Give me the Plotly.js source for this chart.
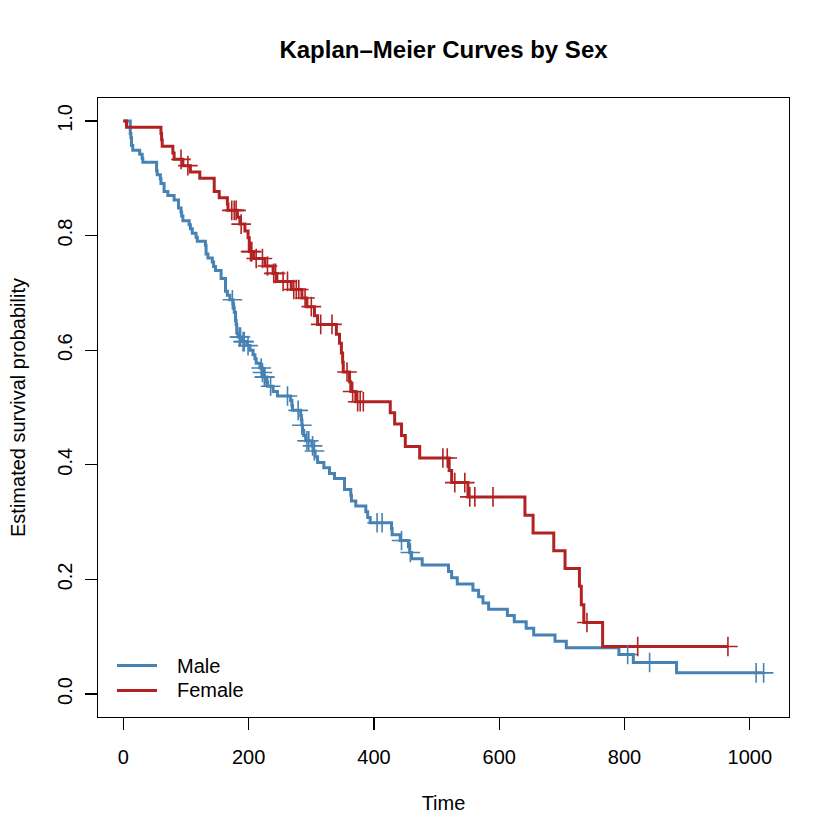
<!DOCTYPE html>
<html>
<head>
<meta charset="utf-8">
<script src="https://cdn.plot.ly/plotly-3.0.1.min.js"></script>
<style>
  html, body { margin: 0; padding: 0; background: #fff; }
  #km-chart { width: 840px; height: 840px; }
</style>
</head>
<body>
<div id="km-chart"></div>
<script>
// event times and KM survival estimates
const maleTime = [11,12,13,15,26,30,31,53,54,59,60,65,71,81,88,92,93,95,105,107,
  110,116,118,131,132,135,142,144,147,156,163,166,170,175,176,177,179,180,181,183,
  189,197,202,207,210,212,218,222,223,229,230,239,246,267,269,270,283,284,285,286,
  288,291,301,303,306,310,320,329,337,353,363,364,371,387,390,394,428,429,442,455,
  457,460,477,519,524,533,558,567,574,583,613,624,643,655,689,707,791,814,883];
const maleSurv = [0.978,0.971,0.957,0.949,0.942,0.935,0.928,0.913,0.906,0.899,
  0.891,0.877,0.870,0.862,0.848,0.841,0.834,0.826,0.819,0.812,
  0.804,0.797,0.790,0.783,0.768,0.761,0.754,0.746,0.739,0.725,
  0.703,0.696,0.688,0.681,0.674,0.666,0.652,0.645,0.630,0.623,
  0.615,0.608,0.600,0.592,0.585,0.577,0.569,0.561,0.553,0.545,
  0.537,0.528,0.520,0.512,0.503,0.495,0.486,0.478,0.469,0.460,
  0.451,0.442,0.433,0.424,0.414,0.404,0.395,0.385,0.376,0.357,
  0.347,0.337,0.328,0.318,0.308,0.299,0.289,0.278,0.268,0.257,
  0.247,0.236,0.225,0.214,0.203,0.192,0.181,0.170,0.159,0.148,
  0.137,0.126,0.115,0.103,0.092,0.081,0.069,0.055,0.037];
const maleCensor = [174,185,187,191,193,199,220,222,225,226,235,262,279,285,293,296,
  302,305,405,413,444,458,805,840,1010,1022];

const femaleTime = [5,60,61,62,79,81,95,107,122,145,153,166,167,182,186,194,199,201,208,226,
  239,245,268,285,293,305,310,340,345,348,350,351,361,363,371,426,433,444,450,473,
  520,524,550,641,654,687,705,728,731,735,765];
const femaleSurv = [0.989,0.978,0.967,0.956,0.944,0.933,0.922,0.911,0.900,0.877,
  0.866,0.855,0.844,0.832,0.820,0.808,0.796,0.772,0.760,0.747,
  0.734,0.720,0.706,0.691,0.676,0.660,0.645,0.628,0.612,0.595,
  0.579,0.562,0.545,0.528,0.510,0.491,0.471,0.451,0.432,0.412,
  0.390,0.369,0.344,0.312,0.281,0.250,0.219,0.188,0.156,0.125,0.083];
const femaleCensor = [92,103,173,177,180,188,203,205,212,222,230,240,243,255,262,272,276,280,
  290,300,315,333,357,366,374,378,383,510,517,529,545,553,561,590,740,821,965];

const xTicks = [0,200,400,600,800,1000];
const yTicks = [0,0.2,0.4,0.6,0.8,1.0];
const groupNames = ["Male", "Female"];

const maleColor = "#4682B4";
const femaleColor = "#B22222";
const groupColors = [maleColor, femaleColor];
const fontFam = "Liberation Sans, Arial, Helvetica, sans-serif";

// value of the step curve at time t (right-continuous)
const survAt = (times, surv, t) => {
    let s = 1;
    for (let i = 0; i < times.length; i++) {
        if (times[i] <= t) s = surv[i];
    }
    return s;
}

const stepTrace = (times, surv, censor, color, name) => {
    const lastT = Math.max(times[times.length-1], censor[censor.length-1]);
    return {
        x: [0].concat(times, [lastT]),
        y: [1].concat(surv, [surv[surv.length-1]]),
        mode: 'lines',
        name: name,
        line: { shape: 'hv', color: color, width: 3 },
        type: 'scatter',
        hoverinfo: 'skip'
    }
}

const censorTrace = (times, surv, censor, color, name) => {
    return {
        x: censor,
        y: censor.map(t => survAt(times, surv, t)),
        mode: 'markers',
        name: name,
        marker: { symbol: 'cross-thin', size: 14, color: color, line: { color: color, width: 1.6 } },
        type: 'scatter',
        hoverinfo: 'skip'
    }
}

const data = [
    stepTrace(maleTime, maleSurv, maleCensor, maleColor, "Male"),
    stepTrace(femaleTime, femaleSurv, femaleCensor, femaleColor, "Female"),
    censorTrace(maleTime, maleSurv, maleCensor, maleColor, "Male censored"),
    censorTrace(femaleTime, femaleSurv, femaleCensor, femaleColor, "Female censored")
];

// R-style legend in the bottom-left corner (no box)
const legendRowsY = [0.083, 0.043];
const legendShapes = groupNames.map((g, i) => ({
    type: 'line', xref: 'paper', yref: 'paper',
    x0: 0.0275, x1: 0.0854, y0: legendRowsY[i], y1: legendRowsY[i],
    line: { color: groupColors[i], width: 3 }
}));
const legendLabels = groupNames.map((g, i) => ({
    text: g, xref: 'paper', yref: 'paper',
    x: 0.111, y: legendRowsY[i], xanchor: 'left', yanchor: 'middle',
    showarrow: false, font: { size: 20, color: '#000000' }
}));

const layout = {
    width: 840,
    height: 840,
    margin: { l: 98, r: 51, t: 98, b: 123 },
    paper_bgcolor: '#ffffff',
    plot_bgcolor: '#ffffff',
    font: { family: fontFam, color: '#000000', size: 20 },
    showlegend: false,
    title: {
        text: '<b>Kaplan\u2013Meier Curves by Sex</b>',
        font: { family: fontFam, size: 24, color: '#000000' },
        x: 0.5, xref: 'paper', xanchor: 'center',
        y: 1 - 50/840, yref: 'container', yanchor: 'middle'
    },
    xaxis: {
        range: [-40.5, 1062.5],
        tickvals: xTicks,
        ticktext: xTicks.map(String),
        ticks: 'outside',
        ticklen: 12,
        tickwidth: 1.3,
        tickcolor: '#000000',
        ticklabelstandoff: 10,
        tickfont: { size: 20 },
        showline: true,
        mirror: true,
        linecolor: '#000000',
        linewidth: 1.3,
        showgrid: false,
        zeroline: false,
        title: { text: 'Time', standoff: 28, font: { size: 20 } }
    },
    yaxis: {
        range: [-0.04, 1.04],
        tickvals: yTicks,
        ticktext: yTicks.map(v => v.toFixed(1)),
        tickangle: -90,
        ticks: 'outside',
        ticklen: 12,
        tickwidth: 1.3,
        tickcolor: '#000000',
        ticklabelstandoff: 5,
        tickfont: { size: 20 },
        showline: true,
        mirror: true,
        linecolor: '#000000',
        linewidth: 1.3,
        showgrid: false,
        zeroline: false,
        title: { text: 'Estimated survival probability', standoff: 22, font: { size: 20 } }
    },
    shapes: legendShapes,
    annotations: legendLabels
};

Plotly.newPlot('km-chart', data, layout, { displayModeBar: false, staticPlot: true });
</script>
</body>
</html>
